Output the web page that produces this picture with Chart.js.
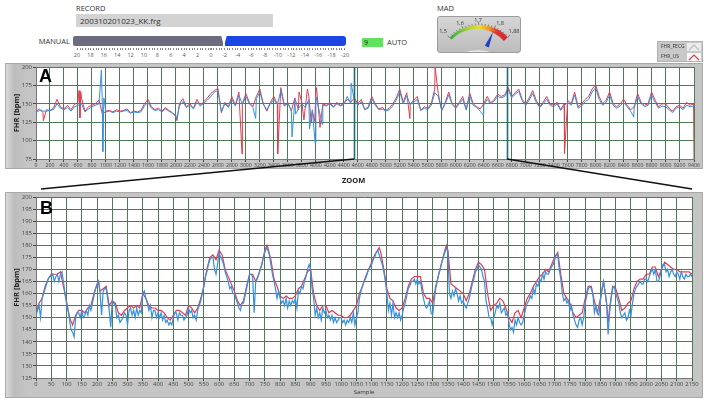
<!DOCTYPE html>
<html>
<head>
<meta charset="utf-8">
<script src="https://cdn.jsdelivr.net/npm/chart.js@4.4.1/dist/chart.umd.min.js"></script>
<style>
  body { margin: 0; width: 708px; height: 399px; background: #fff; position: relative; overflow: hidden;
         font-family: "Open Sans", "DejaVu Sans", sans-serif; color: #333; }
  .abs { position: absolute; white-space: nowrap; }
  .lbl { font-size: 7.5px; }
  .frame { position: absolute; background: linear-gradient(to right, #dadada 0, #bdbdbd 8px, #c5c5c5 24px, #c5c5c5 100%);
           border: 1px solid #a9a9a9; box-sizing: border-box; }
  .panel { position: absolute; font: bold 18px "Liberation Sans", Arial, sans-serif; color: #000; }
  .sl { position: absolute; top: 51px; font-size: 5.5px; color: #555; transform: translateX(-50%); }
  .g { position: absolute; font-size: 5.5px; color: #333; transform: translateX(-50%); }
</style>
</head>
<body>

<!-- top controls -->
<div class="abs lbl" style="left:76px; top:3px;">RECORD</div>
<div class="abs" style="left:76px; top:14px; width:197px; height:13px; background:#d3d3d3; font-size:8px; line-height:13px; padding-left:4px; box-sizing:border-box;">200310201023_KK.frg</div>

<div class="abs lbl" style="left:30px; top:36px; width:40px; text-align:right;">MANUAL</div>
<div class="abs" style="left:73px; top:36px; width:150px; height:10px; background:#6c6b80; border-radius:2px 0 0 2px;"></div>
<div class="abs" style="left:225px; top:36px; width:121px; height:10px; background:#1b46e4; border-radius:0 3px 3px 0;"></div>
<div class="abs" style="left:221px; top:35px; width:6px; height:10px; background:#fff; clip-path:polygon(0 0,100% 0,55% 100%,45% 100%);"></div>
<div class="abs" style="left:77px; top:48px; width:268px; height:2px; background:repeating-linear-gradient(to right,#888 0,#888 1px,transparent 1px,transparent 2.67px);"></div>
<div id="sliderScale"></div>

<div class="abs" style="left:362px; top:38px; width:21px; height:9px; background:#5ee35a; font-size:7px; line-height:9px; padding-left:2px; box-sizing:border-box; color:#222;">9</div>
<div class="abs lbl" style="left:387px; top:37px;">AUTO</div>

<div class="abs lbl" style="left:437px; top:3px;">MAD</div>
<div class="abs" style="left:437px; top:16px; width:84px; height:37px; background:linear-gradient(#d6d6d6,#bcbcbc); border:1px solid #9c9c9c; border-radius:3px; box-sizing:border-box; overflow:hidden;">
  <canvas id="gauge" width="84" height="37" style="position:absolute; left:-1px; top:-1px;"></canvas>
</div>
<div id="gaugeLabels"></div>

<div class="abs" style="left:657px; top:41px; width:46px; height:21px; background:#c9c9c9; border:1px solid #b3b3b3; box-sizing:border-box;">
  <div class="abs" style="left:3px; top:1px; font-size:5px;">FHR_FECG</div>
  <svg class="abs" style="left:29px; top:1px;" width="14" height="8"><rect width="14" height="8" fill="#ececec"/><polyline points="2,7 7,2 12,7" fill="none" stroke="#bdbdbd" stroke-width="1.2"/></svg>
  <div class="abs" style="left:3px; top:11px; font-size:5px;">FHR_US</div>
  <svg class="abs" style="left:29px; top:11px;" width="14" height="8"><rect width="14" height="8" fill="#f6f6f6"/><polyline points="2,7 7,2 12,7" fill="none" stroke="#e03c50" stroke-width="1.2"/></svg>
</div>

<!-- graph frames -->
<div class="frame" style="left:5px; top:63px; width:698px; height:106px;"></div>
<div class="frame" style="left:5px; top:192px; width:698px; height:206px;"></div>

<canvas id="chartA" class="abs" style="left:0; top:60px;" width="708" height="111"></canvas>
<canvas id="chartB" class="abs" style="left:0; top:190px;" width="708" height="207"></canvas>

<div class="panel" style="left:39px; top:66px;">A</div>
<div class="panel" style="left:40px; top:198px;">B</div>
<div class="abs" style="left:342px; top:175px; font-size:7.5px; font-weight:bold; color:#222;">ZOOM</div>

<canvas id="overlay" class="abs" style="left:0; top:0; pointer-events:none;" width="708" height="399"></canvas>

<script>
// ---------- data: overview (A), one value every 50 samples ----------
const aStep = 50;
const aXMax = 9406;
const aXTicks = [0,200,400,600,800,1000,1200,1400,1600,1800,2000,2200,2400,2600,2800,3000,3200,3400,3600,3800,4000,
  4200,4400,4600,4800,5000,5200,5400,5600,5800,6000,6200,6400,6600,6800,7000,7200,7400,7600,7800,8000,8200,8400,8600,
  8800,9000,9200,9406];
const aUS = [
  140,143,138,142,141,144,156,146,143,148,
  142,149,152,158,140,146,148,150,155,136,
  140,141,139,142,140,141,143,138,140,139,
  141,150,156,146,142,144,140,145,141,138,
  132,150,157,146,150,144,156,148,153,158,
  164,168,171,138,152,146,160,148,166,150,
  164,152,146,160,170,150,140,152,160,150,
  172,148,152,140,158,142,152,146,160,140,
  166,130,150,148,152,146,152,148,150,156,
  152,158,150,156,142,146,160,150,143,145,
  141,144,150,158,170,152,165,150,155,160,
  141,146,144,150,170,164,141,152,166,150,
  145,152,160,142,165,150,146,143,150,160,
  151,156,163,160,162,172,160,165,170,156,
  150,158,168,155,146,152,160,150,148,152,
  142,150,155,150,166,146,150,156,160,170,
  176,160,150,155,166,150,146,150,156,148,
  142,146,164,152,148,150,166,155,146,150,
  150,144,140,146,148,144,152,148,150
];
const aFECG = [
  138,141,140,140,141,142,150,144,142,145,
  140,146,148,150,139,143,146,148,150,140,
  139,140,138,140,139,140,141,137,139,138,
  139,147,152,144,141,142,139,143,140,137,
  135,147,153,145,148,143,152,147,151,155,
  160,166,168,140,150,145,156,147,162,149,
  160,150,145,157,166,149,142,150,156,149,
  168,147,150,142,155,143,150,145,156,142,
  160,140,148,147,150,145,150,147,149,160,
  150,155,148,153,142,144,157,148,142,143,
  140,142,147,155,166,150,161,149,152,156,
  141,144,142,148,165,160,141,150,162,149,
  144,150,156,142,161,148,145,140,148,156,
  150,154,160,158,160,170,158,163,167,154,
  148,155,164,152,145,150,156,148,146,150,
  141,147,152,148,162,144,147,153,156,166,
  172,156,148,152,162,148,144,147,152,146,
  140,144,160,150,146,148,162,152,144,147,
  146,142,138,144,146,142,148,146,147
];
// narrow artefacts between the 50-sample points: [sample, bpm]
const aUSSpikes = [[105,127],[615,168],[628,131],[640,166],[2015,127],[2945,82],[3455,82],[3760,166],[3830,128],
  [3880,170],[3935,124],[3985,126],[4010,172],[4060,118],[5345,130],[5705,200],[7555,82],[9406,75]];
const aFECGSpikes = [[935,196],[955,85],[970,158],[2010,128],[3140,130],[3660,105],[3710,136],[3910,116],
  [3990,97],[4090,122],[4505,178],[6390,135],[8545,132]];
const aCursors = [4545, 6735];

// ---------- data: zoom (B) ----------
const bXMax = 2150;
const bUSStep = 10;
const bUS = [
  152,156,158,163,166,168,168,168,169,163,
  157,150,147,151,153,153,152,154,155,160,
  164,161,162,163,155,157,156,152,151,153,
  154,155,154,155,154,160,158,155,154,154,
  153,153,152,150,149,151,153,153,152,151,
  155,154,152,154,158,163,170,175,176,174,
  178,176,170,167,164,161,157,155,157,163,
  168,168,165,168,172,178,179,174,166,163,
  159,158,159,158,158,159,162,163,166,169,
  170,160,155,153,155,155,152,153,152,151,
  151,150,150,151,153,155,160,163,167,170,
  173,176,178,177,170,162,158,157,154,153,
  154,158,163,166,167,167,167,160,158,158,
  156,163,168,173,178,178,164,163,162,161,
  160,157,160,165,170,173,172,170,160,153,
  155,156,158,157,154,150,148,152,153,150,
  154,158,160,163,165,167,168,170,169,172,
  175,177,168,160,158,156,152,150,151,152,
  158,163,163,157,152,158,165,156,154,163,
  162,158,153,154,156,157,162,165,166,166,
  168,168,171,171,167,170,173,172,171,170,
  170,169,169,169,169,168
];
const bUSPeaks = [[205,165],[600,178],[757,180],[1125,179],[1345,180],[1875,148]];
const bFECGStep = 5;
const bFECG = [
  151,153,155,150,158,160,162,164,166,167,
  167,168,165,167,168,165,168,169,165,160,
  156,153,149,145,144,142,150,152,152,150,
  153,150,151,153,151,155,153,156,159,162,
  163,165,160,151,161,162,162,158,153,146,
  157,156,155,150,151,148,149,150,152,151,
  147,153,154,151,153,150,154,151,153,152,
  160,161,158,156,153,155,150,153,153,150,
  152,150,152,149,151,148,149,147,148,147,
  150,152,152,149,152,151,151,149,150,151,
  154,152,153,150,151,149,153,155,157,160,
  163,167,169,172,174,175,175,170,168,172,
  177,175,174,172,169,167,165,162,163,160,
  160,158,156,154,153,156,156,159,162,165,
  168,168,167,152,165,166,168,170,172,175,
  177,179,178,176,172,168,165,162,158,161,
  158,156,157,155,158,154,157,155,157,156,
  158,154,161,160,163,162,165,167,170,172,
  170,162,158,151,154,150,152,149,154,152,
  153,150,151,149,151,148,150,148,149,150,
  150,148,149,147,149,148,150,148,152,147,
  150,152,158,161,163,165,166,168,170,171,
  172,174,175,177,178,176,174,172,169,165,
  160,153,156,151,156,150,152,150,152,149,
  151,154,156,159,162,163,165,165,166,164,
  166,164,165,161,158,155,154,155,157,152,
  151,157,162,165,168,170,173,175,177,179,
  177,160,158,161,159,162,160,157,159,156,
  157,155,154,156,158,161,164,166,169,170,
  172,171,170,167,165,157,154,150,150,147,
  150,152,155,154,156,152,153,154,151,152,
  148,145,146,144,149,147,150,148,147,148,
  151,154,156,157,159,158,162,160,164,163,
  166,165,168,166,169,168,168,170,171,172,
  174,176,176,170,166,160,157,158,156,157,
  153,155,151,149,147,146,149,150,147,150,
  156,159,162,163,162,160,152,155,152,151,
  157,162,165,161,156,143,152,158,162,163,
  160,158,156,152,150,151,152,149,150,153,
  151,156,160,162,163,164,165,164,164,166,
  166,165,167,169,170,168,170,165,165,167,
  170,172,172,169,170,167,169,170,168,167,
  169,168,166,169,167,166,168,167,167,168,
  167
];
const bXTicks = [0,50,100,150,200,250,300,350,400,450,500,550,600,650,700,750,800,850,900,950,1000,1050,1100,
  1150,1200,1250,1300,1350,1400,1450,1500,1550,1600,1650,1700,1750,1800,1850,1900,1950,2000,2050,2100,2150];

// ---------- controls ----------
const sliderLabels = ['20','18','16','14','12','10','8','6','4','2','0','-2','-4','-6','-8','-10','-12','-14','-16','-18','-20'];
const gaugeLabels = ['1,5','1,6','1,7','1,8','1,88'];

const US_COLOR = '#e23c52';
const FECG_COLOR = '#3590e0';
const GRID = '#4b7c55';
const FONT = '"Open Sans", "DejaVu Sans", sans-serif';

function points(step, vals, extra) {
  const pts = vals.map((v, i) => ({ x: i * step, y: v }));
  (extra || []).forEach(p => pts.push({ x: p[0], y: p[1] }));
  return pts.sort((a, b) => a.x - b.x);
}

const whiteArea = {
  id: 'whiteArea',
  beforeDraw(chart) {
    const a = chart.chartArea, c = chart.ctx;
    c.save();
    c.fillStyle = '#fff';
    c.fillRect(a.left, a.top, a.right - a.left, a.bottom - a.top);
    c.restore();
  }
};

const cursorLines = {
  id: 'cursorLines',
  afterDatasetsDraw(chart) {
    if (!chart.options.plugins.cursorLines) return;
    const c = chart.ctx, a = chart.chartArea, xs = chart.scales.x;
    c.save();
    c.strokeStyle = '#1d6c73';
    c.lineWidth = 1.6;
    chart.options.plugins.cursorLines.values.forEach(v => {
      const px = Math.round(xs.getPixelForValue(v)) + 0.5;
      c.beginPath(); c.moveTo(px, a.top); c.lineTo(px, a.bottom); c.stroke();
    });
    c.restore();
  }
};

function makeOptions(cfg) {
  return {
    animation: false,
    responsive: false,
    layout: { padding: { left: 2, right: cfg.padRight, top: 7, bottom: 0 } },
    plugins: { legend: { display: false }, tooltip: { enabled: false }, cursorLines: cfg.cursors },
    scales: {
      x: {
        type: 'linear', min: 0, max: cfg.xMax,
        afterBuildTicks: ax => { ax.ticks = cfg.xTicks.map(v => ({ value: v })); },
        afterFit: ax => { ax.height = cfg.xHeight; },
        ticks: { font: { size: cfg.xFont, family: FONT }, color: '#444', maxRotation: 0, autoSkip: false, padding: 0,
                 callback: v => String(v) },
        grid: { color: GRID, lineWidth: 1, tickLength: 3, tickColor: '#444' },
        border: { color: '#777' },
        title: cfg.xTitle ? { display: true, text: cfg.xTitle, font: { size: 6, family: FONT }, color: '#333', padding: { top: 0, bottom: 1 } } : { display: false }
      },
      y: {
        min: cfg.yMin, max: cfg.yMax,
        afterFit: ax => { ax.width = 34; },
        ticks: { stepSize: cfg.yStep, font: { size: 6, family: FONT }, color: '#444', padding: 1,
                 callback: v => String(v) },
        grid: { color: GRID, lineWidth: 1, tickLength: 3, tickColor: '#444' },
        border: { color: '#777' },
        title: { display: true, text: 'FHR [bpm]', font: { size: 7.5, weight: 'bold', family: FONT }, color: '#222', padding: { top: 10, bottom: 0 } }
      }
    }
  };
}

function dataset(label, pts, color, width) {
  return { label, data: pts, borderColor: color, borderWidth: width, pointRadius: 0, tension: 0, fill: false };
}

const chartA = new Chart(document.getElementById('chartA'), {
  type: 'line',
  data: { datasets: [
    dataset('FHR_FECG', points(aStep, aFECG, aFECGSpikes), FECG_COLOR, 1),
    dataset('FHR_US', points(aStep, aUS, aUSSpikes), US_COLOR, 1)
  ] },
  options: makeOptions({ padRight: 14, xMax: aXMax, xTicks: aXTicks, xHeight: 12, xFont: 5.2, yMin: 75, yMax: 200, yStep: 25,
                         cursors: { values: aCursors } }),
  plugins: [whiteArea, cursorLines]
});

const chartB = new Chart(document.getElementById('chartB'), {
  type: 'line',
  data: { datasets: [
    dataset('FHR_FECG', points(bFECGStep, bFECG), FECG_COLOR, 1.2),
    dataset('FHR_US', points(bUSStep, bUS, bUSPeaks), US_COLOR, 1.2)
  ] },
  options: makeOptions({ padRight: 16, xMax: bXMax, xTicks: bXTicks, xHeight: 19, xFont: 5.8, yMin: 125, yMax: 200, yStep: 5,
                         xTitle: 'Sample', cursors: null }),
  plugins: [whiteArea, cursorLines]
});

// zoom connector lines
(function () {
  const c = document.getElementById('overlay').getContext('2d');
  const topA = 60, topB = 190;
  const yA = chartA.chartArea.bottom + topA;
  const x1 = chartA.scales.x.getPixelForValue(aCursors[0]);
  const x2 = chartA.scales.x.getPixelForValue(aCursors[1]);
  const yB = topB - 1;
  c.strokeStyle = '#111';
  c.lineWidth = 1.3;
  c.beginPath(); c.moveTo(x1, yA); c.lineTo(chartB.chartArea.left + 5, yB); c.stroke();
  c.beginPath(); c.moveTo(x2, yA); c.lineTo(chartB.chartArea.right, yB); c.stroke();
})();

// slider scale labels
(function () {
  const host = document.getElementById('sliderScale');
  sliderLabels.forEach((t, i) => {
    const s = document.createElement('div');
    s.className = 'sl';
    s.style.left = (77 + i * 13.4) + 'px';
    s.textContent = t;
    host.appendChild(s);
  });
})();

// gauge
(function () {
  const c = document.getElementById('gauge').getContext('2d');
  const cx = 42, cy = 49, r = 40;
  const a0 = -137 * Math.PI / 180, a1 = -44 * Math.PI / 180;
  const stops = [[0, [40, 170, 50]], [0.3, [150, 210, 40]], [0.5, [240, 220, 40]], [0.68, [240, 140, 30]], [0.8, [225, 40, 35]], [1, [215, 25, 40]]];
  function col(t) {
    for (let i = 1; i < stops.length; i++) {
      if (t <= stops[i][0]) {
        const p = (t - stops[i - 1][0]) / (stops[i][0] - stops[i - 1][0]);
        const a = stops[i - 1][1], b = stops[i][1];
        return 'rgb(' + a.map((v, k) => Math.round(v + (b[k] - v) * p)).join(',') + ')';
      }
    }
    return 'rgb(215,25,40)';
  }
  const n = 60;
  for (let i = 0; i < n; i++) {
    const t0 = i / n, t1 = (i + 1.2) / n;
    c.beginPath();
    c.strokeStyle = col(t0);
    c.lineWidth = 2.5 + 3 * t0;
    c.arc(cx, cy, r - (2.5 + 3 * t0) / 2, a0 + (a1 - a0) * t0, a0 + (a1 - a0) * Math.min(t1, 1));
    c.stroke();
  }
  c.strokeStyle = '#444'; c.lineWidth = 0.6;
  for (let i = 0; i <= 20; i++) {
    const a = a0 + (a1 - a0) * i / 20;
    const l = i % 5 === 0 ? 3 : 1.5;
    c.beginPath();
    c.moveTo(cx + Math.cos(a) * r, cy + Math.sin(a) * r);
    c.lineTo(cx + Math.cos(a) * (r + l), cy + Math.sin(a) * (r + l));
    c.stroke();
  }
  c.strokeStyle = '#ececec'; c.lineWidth = 1.5;
  c.beginPath(); c.arc(41, 78, 43, -118 * Math.PI / 180, -62 * Math.PI / 180); c.stroke();
  const na = -67 * Math.PI / 180;
  const px = Math.cos(na + Math.PI / 2), py = Math.sin(na + Math.PI / 2);
  c.fillStyle = '#1f3fc8';
  c.beginPath();
  c.moveTo(cx + Math.cos(na) * 36, cy + Math.sin(na) * 36);
  c.lineTo(cx + Math.cos(na) * 20 + px * 2.2, cy + Math.sin(na) * 20 + py * 2.2);
  c.lineTo(cx + Math.cos(na) * 20 - px * 2.2, cy + Math.sin(na) * 20 - py * 2.2);
  c.closePath(); c.fill();

  const host = document.getElementById('gaugeLabels');
  const pos = [[443, 27], [460, 19], [478, 16], [500, 19], [514, 27]];
  gaugeLabels.forEach((t, i) => {
    const s = document.createElement('div');
    s.className = 'g';
    s.style.left = pos[i][0] + 'px';
    s.style.top = pos[i][1] + 'px';
    s.textContent = t;
    host.appendChild(s);
  });
})();
</script>
</body>
</html>
